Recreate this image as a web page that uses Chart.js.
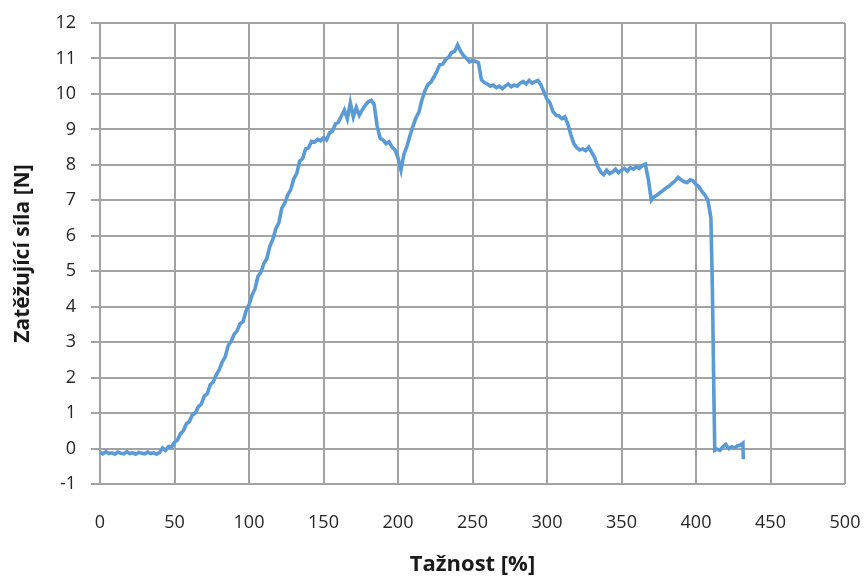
<!DOCTYPE html>
<html>
<head>
<meta charset="utf-8">
<script src="https://cdn.jsdelivr.net/npm/chart.js@4/dist/chart.umd.min.js"></script>
<style>
  html, body { margin: 0; padding: 0; background: #ffffff; }
  #wrap { width: 864px; height: 578px; }
</style>
</head>
<body>
<div id="wrap"><canvas id="c" width="864" height="578"></canvas></div>
<script>
// Tensile test record: elongation [%] against load [N]
const elongation = [
  0, 2, 4, 6, 8, 10, 12, 14, 16, 18, 20, 22, 24, 26, 28, 30, 32, 34, 36, 38, 40,
  42, 44, 46, 48, 50, 52, 54, 56, 58, 60, 62, 64, 66, 68, 70, 72, 74, 76, 78, 80,
  82, 84, 86, 88, 90, 92, 94, 96, 98, 100,
  102, 104, 106, 108, 110, 112, 114, 116, 118, 120, 122, 124, 126, 128, 130,
  132, 134, 136, 138, 140, 142, 144, 146, 148, 150, 152, 154, 156, 158, 160,
  162, 164, 166, 168, 170, 172, 174, 176, 178, 180, 182, 184, 186, 188, 190,
  192, 194, 196, 198, 200, 202, 204, 206, 208, 210, 212, 214, 216, 218, 220,
  222, 224, 226, 228, 230, 232, 234, 236, 238, 240, 242, 244, 246, 248, 250,
  252, 254, 256, 258, 260, 262, 264, 266, 268, 270, 272, 274, 276, 278, 280,
  282, 284, 286, 288, 290, 292, 294, 296, 298, 300, 302, 304, 306, 308, 310,
  312, 314, 316, 318, 320, 322, 324, 326, 328, 330, 332, 334, 336, 338, 340,
  342, 344, 346, 348, 350, 352, 354, 356, 358, 360, 362, 364, 366, 368, 370,
  372, 374, 376, 378, 380, 382, 384, 386, 388, 390, 392, 394, 396, 398, 400,
  402, 404, 406, 408,
  409, 410, 411, 412, 412.6, 414, 416, 418, 420, 422, 424, 426, 428, 430, 431.5, 431.7
];

const force = [
  -0.10, -0.15, -0.09, -0.14, -0.12, -0.16, -0.10, -0.13, -0.15, -0.09, -0.14,
  -0.12, -0.16, -0.11, -0.13, -0.15, -0.10, -0.14, -0.12, -0.16, -0.11,
  0.02, -0.05, 0.06, 0.04, 0.18, 0.24, 0.42, 0.50, 0.70, 0.76, 0.95, 1.00, 1.18, 1.25, 1.48,
  1.55, 1.80, 1.88, 2.08, 2.22, 2.44, 2.58, 2.90, 3.02, 3.22, 3.32, 3.52, 3.58, 3.88, 4.05,
  4.32, 4.50, 4.85, 4.98, 5.22, 5.36, 5.70, 5.90, 6.20, 6.36, 6.78, 6.92, 7.15, 7.30, 7.60,
  7.75, 8.10, 8.18, 8.45, 8.48, 8.66, 8.64, 8.72, 8.68, 8.76, 8.70, 8.90, 8.95, 9.15, 9.20,
  9.38, 9.55, 9.30, 9.75, 9.35, 9.62, 9.40, 9.55, 9.68, 9.78, 9.82, 9.70, 9.10, 8.75, 8.70,
  8.60, 8.65, 8.50, 8.42, 8.20, 7.85, 8.30, 8.52, 8.82, 9.08, 9.32, 9.48, 9.82, 10.08, 10.26,
  10.33, 10.47, 10.63, 10.82, 10.84, 10.97, 11.04, 11.17, 11.20, 11.38, 11.20, 11.08, 11.00, 10.90, 10.95,
  10.92, 10.88, 10.40, 10.32, 10.28, 10.22, 10.25, 10.18, 10.22, 10.15, 10.22, 10.28, 10.20, 10.25, 10.22,
  10.30, 10.35, 10.28, 10.38, 10.30, 10.35, 10.38, 10.25, 10.05, 9.85, 9.75, 9.50, 9.40, 9.38, 9.30,
  9.35, 9.15, 8.85, 8.60, 8.48, 8.42, 8.45, 8.40, 8.50, 8.35, 8.20, 7.95, 7.80, 7.72, 7.85,
  7.75, 7.80, 7.88, 7.78, 7.85, 7.90, 7.82, 7.92, 7.88, 7.95, 7.90, 7.98, 8.02, 7.60, 7.00,
  7.10, 7.15, 7.22, 7.28, 7.35, 7.40, 7.48, 7.55, 7.65, 7.58, 7.52, 7.50, 7.58, 7.55, 7.45,
  7.38, 7.25, 7.15, 7.00,
  6.75, 6.50, 4.50, 1.50, -0.05, -0.02, -0.05, 0.05, 0.12, 0.00, 0.05, 0.02, 0.08, 0.10, 0.15, -0.30
];

const xTicks = [0, 50, 100, 150, 200, 250, 300, 350, 400, 450, 500];
const yTicks = [-1, 0, 1, 2, 3, 4, 5, 6, 7, 8, 9, 10, 11, 12];

const xTitle = 'Tažnost [%]';
const yTitle = 'Zatěžující síla [N]';

const points = elongation.map((x, i) => ({ x: x, y: force[i] }));

const gridColor = '#a3a3a3';
const tickFont = { family: 'Open Sans', size: 18 };

new Chart(document.getElementById('c'), {
  type: 'line',
  data: {
    datasets: [{
      data: points,
      borderColor: '#5b9bd5',
      borderWidth: 3.6,
      pointRadius: 0,
      tension: 0,
      fill: false
    }]
  },
  options: {
    responsive: false,
    animation: false,
    events: [],
    layout: { padding: { left: 0, top: 23, right: 19, bottom: 0 } },
    plugins: { legend: { display: false }, tooltip: { enabled: false } },
    scales: {
      x: {
        type: 'linear',
        min: xTicks[0],
        max: xTicks[xTicks.length - 1],
        afterBuildTicks: s => { s.ticks = xTicks.map(v => ({ value: v })); },
        afterFit: s => { s.height = 94; s.paddingLeft = 0; s.paddingRight = 0; },
        grid: { color: gridColor, lineWidth: 2, drawTicks: false },
        border: { display: false },
        ticks: { font: tickFont, color: '#262626', padding: 28, maxRotation: 0, autoSkip: false },
        title: { display: true, text: xTitle, font: { family: 'Open Sans', size: 22, weight: 'bold' }, color: '#1a1a1a', padding: { top: 0, bottom: 0 } }
      },
      y: {
        type: 'linear',
        min: yTicks[0],
        max: yTicks[yTicks.length - 1],
        afterBuildTicks: s => { s.ticks = yTicks.map(v => ({ value: v })); },
        afterFit: s => { s.width = 100; s.paddingTop = 0; s.paddingBottom = 0; },
        grid: { color: gridColor, lineWidth: 2, drawTicks: true, tickLength: 9, tickColor: gridColor },
        border: { display: false },
        ticks: { font: tickFont, color: '#262626', padding: 15, autoSkip: false },
        title: { display: true, text: yTitle, font: { family: 'Open Sans', size: 21, weight: 'bold' }, color: '#1a1a1a', padding: { top: 10, bottom: 0 } }
      }
    }
  }
});
</script>
</body>
</html>
